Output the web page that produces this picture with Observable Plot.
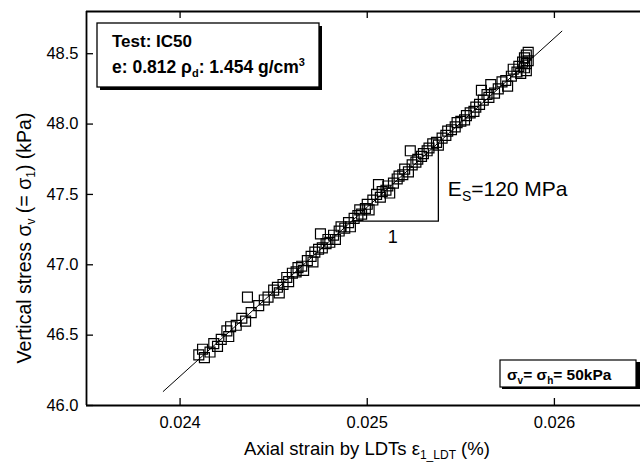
<!DOCTYPE html>
<html>
<head>
<meta charset="utf-8">
<script src="https://cdn.jsdelivr.net/npm/d3@7"></script>
<script src="https://cdn.jsdelivr.net/npm/@observablehq/plot@0.6"></script>
<style>
  body { margin: 0; background: #fff; }
  #chart svg { display: block; }
</style>
</head>
<body>
<div id="chart"></div>
<script>
// Axial strain measured by the LDTs (%), one entry per reading
const strain = [
  0.02410, 0.02412, 0.02413, 0.02416, 0.02418, 0.02420, 0.02422, 0.02425, 0.02426, 0.02427,
  0.02430, 0.02433, 0.02435, 0.02436, 0.02438, 0.02442, 0.02445, 0.02447, 0.02450, 0.02452,
  0.02453, 0.02455, 0.02457, 0.02458, 0.02460, 0.02462, 0.02463, 0.02465, 0.02466, 0.02468,
  0.02470, 0.02471, 0.02472, 0.02474, 0.02475, 0.02476, 0.02478, 0.02479, 0.02480, 0.02482,
  0.02483, 0.02485, 0.02486, 0.02488, 0.02490, 0.02491, 0.02493, 0.02495, 0.02496, 0.02497,
  0.02499, 0.02500, 0.02501, 0.02503, 0.02505, 0.02506, 0.02507, 0.02508, 0.02510, 0.02511,
  0.02512, 0.02514, 0.02516, 0.02517, 0.02519, 0.02520, 0.02522, 0.02523, 0.02524, 0.02526,
  0.02527, 0.02529, 0.02530, 0.02532, 0.02533, 0.02535, 0.02537, 0.02538, 0.02540, 0.02542,
  0.02543, 0.02545, 0.02547, 0.02548, 0.02550, 0.02552, 0.02553, 0.02555, 0.02557, 0.02558,
  0.02560, 0.02561, 0.02562, 0.02564, 0.02565, 0.02566, 0.02568, 0.02570, 0.02572, 0.02574,
  0.02575, 0.02577, 0.02578, 0.02580, 0.02581, 0.02582, 0.02583, 0.02584, 0.02584, 0.02585,
  0.02585, 0.02586, 0.02586, 0.02585
];
// Vertical stress (kPa) for the same readings
const stress = [
  46.36, 46.40, 46.34, 46.38, 46.44, 46.42, 46.47, 46.53, 46.49, 46.56,
  46.57, 46.62, 46.60, 46.77, 46.66, 46.71, 46.75, 46.77, 46.82, 46.84,
  46.80, 46.86, 46.91, 46.88, 46.94, 46.95, 46.98, 46.99, 46.96, 47.03,
  47.06, 47.02, 47.09, 47.11, 47.22, 47.12, 47.15, 47.18, 47.16, 47.21,
  47.18, 47.24, 47.27, 47.26, 47.30, 47.27, 47.33, 47.35, 47.39, 47.36,
  47.40, 47.43, 47.39, 47.46, 47.50, 47.57, 47.48, 47.52, 47.53, 47.56,
  47.51, 47.58, 47.61, 47.63, 47.64, 47.68, 47.66, 47.81, 47.71, 47.73,
  47.75, 47.77, 47.79, 47.81, 47.83, 47.86, 47.87, 47.85, 47.90, 47.92,
  47.95, 47.96, 47.98, 48.01, 48.02, 48.03, 48.06, 48.08, 48.09, 48.12,
  48.14, 48.24, 48.17, 48.21, 48.19, 48.28, 48.22, 48.25, 48.30, 48.31,
  48.27, 48.34, 48.39, 48.37, 48.41, 48.36, 48.44, 48.40, 48.47, 48.43,
  48.49, 48.45, 48.51, 48.38
];

// Secant line (Es = 120 MPa) end points
const fitStrain = [0.02391, 0.02604];
const fitStress = [46.10, 48.66];

// Slope triangle: run then rise along the secant line
const triStrain = [0.02492, 0.02538, 0.02538];
const triStress = [47.31, 47.31, 47.86];

const xTicks = [0.024, 0.025, 0.026];
const yTicks = [46.0, 46.5, 47.0, 47.5, 48.0, 48.5];

const points = strain.map((x, i) => ({x, y: stress[i]}));
const fit = fitStrain.map((x, i) => ({x, y: fitStress[i]}));
const tri = triStrain.map((x, i) => ({x, y: triStress[i]}));

const font = "'Liberation Sans', Arial, Helvetica, sans-serif";

const plot = Plot.plot({
  width: 640,
  height: 466,
  marginLeft: 86,
  marginRight: 0,
  marginTop: 11,
  marginBottom: 61,
  style: {fontFamily: font, fontSize: "16.5px", color: "#000", background: "#fff", overflow: "visible"},
  x: {domain: [0.0235, 0.02646]},
  y: {domain: [46, 48.8]},
  marks: [
    Plot.axisX(xTicks, {tickSize: 0, tickPadding: 11, tickFormat: d => d.toFixed(3), label: null}),
    Plot.axisY(yTicks, {tickSize: 0, tickPadding: 8, tickFormat: d => d.toFixed(1), label: null}),
    // inward ticks on bottom, top and left edges
    Plot.ruleX(xTicks, {insetTop: 387, strokeWidth: 1.3}),
    Plot.ruleX(xTicks, {insetBottom: 387, strokeWidth: 1.3}),
    Plot.ruleY(yTicks, {insetRight: 547, strokeWidth: 1.3}),
    // frame edges
    Plot.ruleX([0.0235], {strokeWidth: 1.8}),
    Plot.ruleY([46, 48.8], {strokeWidth: 2}),
    Plot.line(fit, {x: "x", y: "y", stroke: "#000", strokeWidth: 1}),
    Plot.dot(points, {x: "x", y: "y", symbol: "square", r: 5.6, stroke: "#000", strokeWidth: 1.2, fill: "none"}),
    Plot.line(tri, {x: "x", y: "y", stroke: "#000", strokeWidth: 1.3})
  ]
});

document.getElementById("chart").appendChild(plot);

const svg = d3.select(plot);
const sx = v => plot.scale("x").apply(v);
const sy = v => plot.scale("y").apply(v);

// Axis titles with sub/superscripts
const xt = svg.append("text")
  .attr("x", 367).attr("y", 455)
  .attr("text-anchor", "middle")
  .attr("font-family", font).attr("font-size", 18.5);
xt.append("tspan").text("Axial strain by LDTs ε");
xt.append("tspan").attr("font-size", 12).attr("dy", 4).text("1_LDT");
xt.append("tspan").attr("dy", -4).text(" (%)");

const yt = svg.append("text")
  .attr("transform", "translate(31,238) rotate(-90)")
  .attr("text-anchor", "middle")
  .attr("font-family", font).attr("font-size", 19.5);
yt.append("tspan").text("Vertical stress σ");
yt.append("tspan").attr("font-size", 12).attr("dy", 4).text("v");
yt.append("tspan").attr("dy", -4).text(" (= σ");
yt.append("tspan").attr("font-size", 12).attr("dy", 4).text("1");
yt.append("tspan").attr("dy", -4).text(") (kPa)");

// Test information box with drop shadow
const info = svg.append("g").attr("font-family", font).attr("font-weight", "bold").attr("text-anchor", "start");
info.append("rect").attr("x", 100).attr("y", 26).attr("width", 222).attr("height", 64).attr("fill", "#000");
info.append("rect").attr("x", 97).attr("y", 23).attr("width", 222).attr("height", 64)
  .attr("fill", "#fff").attr("stroke", "#000").attr("stroke-width", 1.3);
info.append("text").attr("x", 112).attr("y", 47).attr("font-size", 17).text("Test: IC50");
const l2 = info.append("text").attr("x", 112).attr("y", 73).attr("font-size", 17.5);
l2.append("tspan").text("e: 0.812 ρ");
l2.append("tspan").attr("font-size", 11).attr("dy", 4).text("d");
l2.append("tspan").attr("dy", -4).text(": 1.454 g/cm");
l2.append("tspan").attr("font-size", 11).attr("dy", -7).text("3");

// Confining stress box
const conf = svg.append("g").attr("font-family", font).attr("font-weight", "bold").attr("text-anchor", "start");
conf.append("rect").attr("x", 502).attr("y", 362).attr("width", 138).attr("height", 27).attr("fill", "#000");
conf.append("rect").attr("x", 500).attr("y", 360).attr("width", 136).attr("height", 27)
  .attr("fill", "#fff").attr("stroke", "#000").attr("stroke-width", 1.2);
const ct = conf.append("text").attr("x", 507).attr("y", 380).attr("font-size", 15.5);
ct.append("tspan").text("σ");
ct.append("tspan").attr("font-size", 10).attr("dy", 4).text("v");
ct.append("tspan").attr("dy", -4).text("= σ");
ct.append("tspan").attr("font-size", 10).attr("dy", 4).text("h");
ct.append("tspan").attr("dy", -4).text("= 50kPa");

// Slope annotation
const es = svg.append("text")
  .attr("x", sx(triStrain[1]) + 10).attr("y", sy(47.5) + 2)
  .attr("text-anchor", "start")
  .attr("font-family", font).attr("font-size", 21);
es.append("tspan").text("E");
es.append("tspan").attr("font-size", 14).attr("dy", 5).text("S");
es.append("tspan").attr("dy", -5).text("=120 MPa");

svg.append("text")
  .attr("x", (sx(triStrain[0]) + sx(triStrain[1])) / 2 - 2).attr("y", sy(triStress[0]) + 22)
  .attr("text-anchor", "middle")
  .attr("font-family", font).attr("font-size", 18)
  .text("1");
</script>
</body>
</html>
